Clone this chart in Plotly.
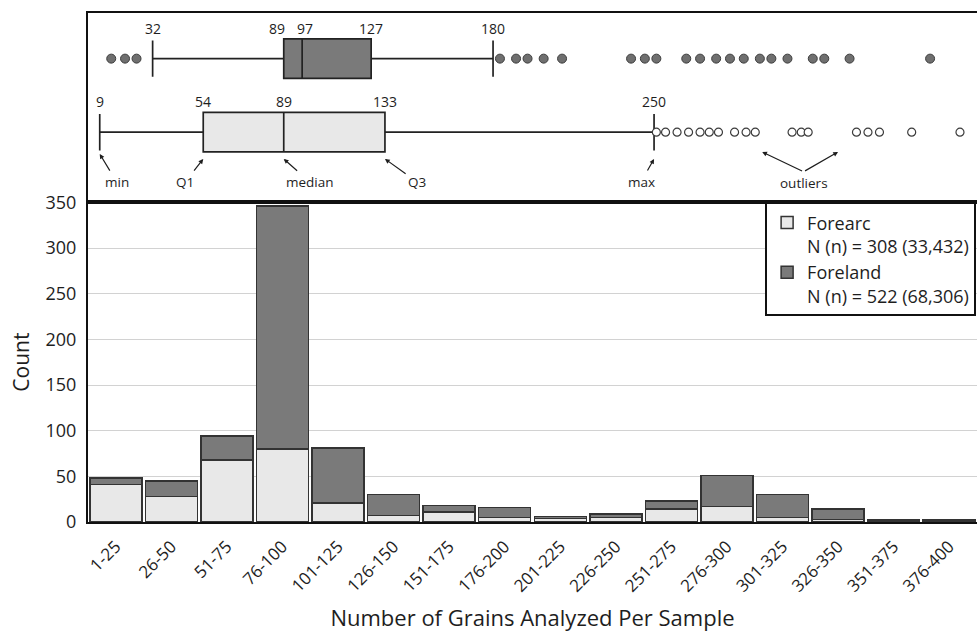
import plotly.graph_objects as go

# ---- histogram data: samples per grain-count bin ----
bins = ["1-25", "26-50", "51-75", "76-100", "101-125", "126-150", "151-175",
        "176-200", "201-225", "226-250", "251-275", "276-300", "301-325",
        "326-350", "351-375", "376-400"]
forearc = [41, 28, 68, 80, 21, 7, 11, 5, 4, 5, 14, 17, 5, 3, 1, 1]
foreland = [7, 17, 26, 266, 60, 23, 7, 11, 2, 4, 9, 34, 25, 11, 1, 1]

# ---- box-plot summaries (grains per sample) ----
foreland_box = [32, 89, 97, 127, 180]    # min, Q1, median, Q3, max
forearc_box = [9, 54, 89, 133, 250]
foreland_out = [14, 20, 25, 183, 190, 195, 202, 210, 240, 246, 251, 264, 270,
                277, 283, 289, 296, 301, 308, 319, 324, 335, 370]
forearc_out = [251, 255, 260, 265, 270, 274, 278, 285, 290, 294, 310, 314, 317,
               338, 343, 348, 362, 383]
box_labels = ["min", "Q1", "median", "Q3", "max"]

LIGHT = "#e8e8e8"
DARK = "#7a7a7a"
EDGE = "#333333"
FONT = "Open Sans"
TXT = "#1e1e1e"

# row positions in the box panel (y2 is laid out in pixels)
ROW_TOP, ROW_BOT, BOX_W = 145.5, 71.0, 40

fig = go.Figure()

fig.add_trace(go.Bar(x=bins, y=forearc, name="Forearc<br>N (n) = 308 (33,432)",
                     marker=dict(color=LIGHT, line=dict(color=EDGE, width=1.5))))
fig.add_trace(go.Bar(x=bins, y=foreland, name="Foreland<br>N (n) = 522 (68,306)",
                     marker=dict(color=DARK, line=dict(color=EDGE, width=1.5))))

for stats, row, fill in [(foreland_box, ROW_TOP, DARK), (forearc_box, ROW_BOT, LIGHT)]:
    fig.add_trace(go.Box(
        y=[row], orientation="h", lowerfence=[stats[0]], q1=[stats[1]],
        median=[stats[2]], q3=[stats[3]], upperfence=[stats[4]],
        width=BOX_W, whiskerwidth=0.92, fillcolor=fill,
        line=dict(color="#222222", width=1.7), xaxis="x2", yaxis="y2",
        showlegend=False, hoverinfo="skip"))

fig.add_trace(go.Scatter(
    x=foreland_out, y=[ROW_TOP] * len(foreland_out), mode="markers",
    marker=dict(size=9, color="#6f6f6f", line=dict(color="#3c3c3c", width=1)),
    xaxis="x2", yaxis="y2", showlegend=False, hoverinfo="skip"))
fig.add_trace(go.Scatter(
    x=forearc_out, y=[ROW_BOT] * len(forearc_out), mode="markers",
    marker=dict(size=8, color="white", line=dict(color="#3c3c3c", width=1.2)),
    xaxis="x2", yaxis="y2", showlegend=False, hoverinfo="skip"))

ann = []
num_font = dict(family=FONT, size=14, color=TXT)
# values printed above each box
for i, v in enumerate(foreland_box):
    ann.append(dict(x=v, y=ROW_TOP + 31, xref="x2", yref="y2", text=str(v),
                    showarrow=False, font=num_font,
                    xshift=-7 if i == 1 else (3 if i == 2 else 0)))
for v in forearc_box:
    ann.append(dict(x=v, y=ROW_BOT + 31, xref="x2", yref="y2", text=str(v),
                    showarrow=False, font=num_font))

# explanatory callouts under the lower box
offsets = [(17, 28), (-18, 23), (26, 23), (32, 23), (-13, 23)]
for lab, v, (dx, dy) in zip(box_labels, forearc_box, offsets):
    head_y = ROW_BOT - 22 if lab == "min" else ROW_BOT - 27
    ann.append(dict(x=v, y=head_y, xref="x2", yref="y2", text=lab,
                    showarrow=True, ax=dx, ay=dy, arrowhead=2, arrowsize=0.8,
                    arrowwidth=1.2, arrowcolor=TXT, standoff=0, startstandoff=1,
                    font=dict(family=FONT, size=13.5, color=TXT)))
ann.append(dict(x=315, y=20, xref="x2", yref="y2", text="outliers",
                showarrow=False, font=dict(family=FONT, size=13.5, color=TXT)))
for hx in (297, 330):
    ann.append(dict(x=hx, y=ROW_BOT - 20, xref="x2", yref="y2", text="",
                    showarrow=True, axref="x2", ayref="y2", ax=315, ay=31,
                    arrowhead=2, arrowsize=0.8, arrowwidth=1.2, arrowcolor=TXT))

fig.update_layout(
    width=977, height=634,
    margin=dict(l=88, r=0, t=8, b=112),
    plot_bgcolor="white", paper_bgcolor="white",
    barmode="stack", bargap=0.065,
    font=dict(family=FONT, color=TXT),
    annotations=ann,
    legend=dict(x=0.999, xanchor="right", y=0.628, yanchor="top",
                bordercolor="#111111", borderwidth=2, bgcolor="white",
                font=dict(family=FONT, size=18, color=TXT),
                traceorder="normal", valign="top", tracegroupgap=6),
    xaxis=dict(domain=[0, 1], anchor="y", showline=True, linecolor="#111111",
               linewidth=2, mirror=True, tickangle=-45, ticks="",
               ticklabelstandoff=6,
               tickfont=dict(family=FONT, size=17, color=TXT),
               title=dict(text="Number of Grains Analyzed Per Sample",
                          font=dict(family=FONT, size=22, color=TXT), standoff=15)),
    yaxis=dict(domain=[0, 0.628], anchor="x", range=[0, 350],
               tickvals=[0, 50, 100, 150, 200, 250, 300, 350],
               showgrid=True, gridcolor="#d2d2d2", gridwidth=1, zeroline=False,
               showline=True, linecolor="#111111", linewidth=2, ticks="",
               ticklabelstandoff=6,
               tickfont=dict(family=FONT, size=18, color=TXT),
               title=dict(text="Count", font=dict(family=FONT, size=21, color=TXT),
                          standoff=10)),
    xaxis2=dict(domain=[0, 1], anchor="y2", range=[3.9, 390.4],
                showline=True, mirror=True, linecolor="#111111", linewidth=2,
                showgrid=False, zeroline=False, showticklabels=False, ticks=""),
    yaxis2=dict(domain=[0.628, 1], anchor="x2", range=[0, 191.7],
                showline=True, linecolor="#111111", linewidth=2,
                showgrid=False, zeroline=False, showticklabels=False, ticks=""),
)

fig.write_html("out.html")
